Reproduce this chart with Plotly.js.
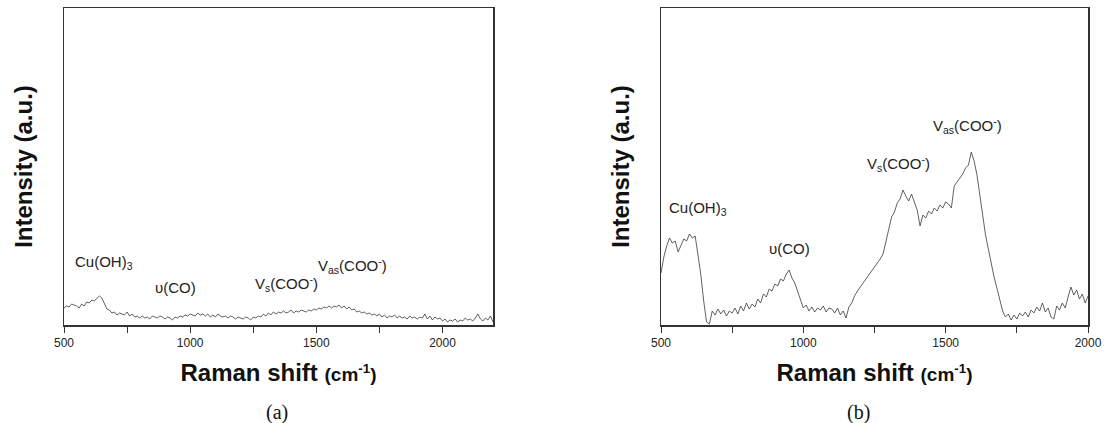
<!DOCTYPE html>
<html>
<head>
<meta charset="utf-8">
<script src="https://cdn.plot.ly/plotly-3.0.1.min.js"></script>
<style>
html,body{margin:0;padding:0;background:#fff;}
#chart{width:1106px;height:423px;}
</style>
</head>
<body>
<div id="chart"></div>
<script>
// Panel (a): Raman shift (cm-1) and intensity (a.u., arbitrary)
const shiftA = [500,510,520,530,540,550,560,570,580,590,600,610,620,630,640,650,660,670,680,690,700,710,720,730,740,750,760,770,780,790,800,810,820,830,840,850,860,870,880,890,900,910,920,930,940,950,960,970,980,990,1000,1010,1020,1030,1040,1050,1060,1070,1080,1090,1100,1110,1120,1130,1140,1150,1160,1170,1180,1190,1200,1210,1220,1230,1240,1250,1260,1270,1280,1290,1300,1310,1320,1330,1340,1350,1360,1370,1380,1390,1400,1410,1420,1430,1440,1450,1460,1470,1480,1490,1500,1510,1520,1530,1540,1550,1560,1570,1580,1590,1600,1610,1620,1630,1640,1650,1660,1670,1680,1690,1700,1710,1720,1730,1740,1750,1760,1770,1780,1790,1800,1810,1820,1830,1840,1850,1860,1870,1880,1890,1900,1910,1920,1930,1940,1950,1960,1970,1980,1990,2000,2010,2020,2030,2040,2050,2060,2070,2080,2090,2100,2110,2120,2130,2140,2150,2160,2170,2180,2190,2200];
const intensityA = [17,19,18,21,20,19,17,21,19,23,
22,25,24,27,29,27,21,16,15,12,
13,10,12,11,10,13,9,11,8,9,
7,9,7,8,6,9,8,7,9,8,
6,8,7,5,8,7,9,8,10,9,
11,10,9,12,10,11,9,11,8,10,
8,11,9,8,9,7,9,8,6,8,
7,6,8,7,5,8,7,9,8,11,
9,12,10,13,11,13,12,14,12,13,
15,12,14,13,15,14,13,15,14,16,
15,17,16,18,17,19,17,19,18,20,
17,19,16,18,15,16,13,14,12,13,
11,12,10,11,9,11,8,10,7,9,
8,10,7,9,7,8,6,9,7,8,
6,8,7,11,6,9,5,8,6,7,
4,6,3,5,4,6,3,5,4,7,
5,6,4,7,11,6,4,7,5,9,
3];

// Panel (b)
const shiftB = [500,510,520,530,540,550,560,570,580,590,600,610,620,630,640,650,660,670,680,690,700,710,720,730,740,750,760,770,780,790,800,810,820,830,840,850,860,870,880,890,900,910,920,930,940,950,960,970,980,990,1000,1010,1020,1030,1040,1050,1060,1070,1080,1090,1100,1110,1120,1130,1140,1150,1160,1170,1180,1190,1200,1210,1220,1230,1240,1250,1260,1270,1280,1290,1300,1310,1320,1330,1340,1350,1360,1370,1380,1390,1400,1410,1420,1430,1440,1450,1460,1470,1480,1490,1500,1510,1520,1530,1540,1550,1560,1570,1580,1590,1600,1610,1620,1630,1640,1650,1660,1670,1680,1690,1700,1710,1720,1730,1740,1750,1760,1770,1780,1790,1800,1810,1820,1830,1840,1850,1860,1870,1880,1890,1900,1910,1920,1930,1940,1950,1960,1970,1980,1990,2000];
const intensityB = [52,68,79,87,82,84,73,79,86,84,
91,87,89,70,50,24,3,1,14,10,
16,11,15,9,14,12,17,11,19,14,
22,16,21,18,26,22,31,28,36,34,
41,39,46,44,51,55,47,42,33,26,
17,20,14,18,13,17,15,19,13,17,
16,12,17,10,14,7,18,22,29,34,
38,42,45,50,53,58,61,66,71,84,
95,108,113,122,126,135,129,124,131,123,
115,99,110,107,114,111,117,114,120,117,
123,121,117,139,143,148,151,157,160,173,
164,150,132,110,90,76,61,48,37,26,
14,8,11,5,10,6,12,9,13,8,
15,12,18,14,22,13,17,8,6,19,
15,22,17,28,38,30,35,26,31,22,
29];

// Peak labels
const labelsText = ['Cu(OH)<sub>3</sub>', 'υ(CO)', 'V<sub>s</sub>(COO<sup>-</sup>)', 'V<sub>as</sub>(COO<sup>-</sup>)'];
const labelsAx = [536, 853, 1249, 1499];
const labelsAy = [63, 38, 42, 60];
const labelsBx = [520, 871, 1218, 1447];
const labelsBy = [117, 77, 162, 200];
const tickVals = [500, 1000, 1500, 2000];
const tickText = ['500', '1000', '1500', '2000'];

const lineStyle = {color: '#3a3a3a', width: 0.8};
const traces = [
  {x: shiftA, y: intensityA, type: 'scatter', mode: 'lines', line: lineStyle, xaxis: 'x', yaxis: 'y', hoverinfo: 'x+y'},
  {x: shiftB, y: intensityB, type: 'scatter', mode: 'lines', line: lineStyle, xaxis: 'x2', yaxis: 'y2', hoverinfo: 'x+y'}
];

const axisFont = {family: 'Liberation Sans, Arial, sans-serif', size: 12, color: '#222'};
const titleX = {
  text: '<b>Raman shift <span style="font-size:19px">(cm<sup>-1</sup>)</span></b>',
  font: {family: 'Liberation Sans, Arial, sans-serif', size: 24, color: '#111'},
  standoff: 15
};
const titleY = {
  text: '<b>Intensity (a.u.)</b>',
  font: {family: 'Liberation Sans, Arial, sans-serif', size: 24, color: '#111'},
  standoff: 23
};
function xAxis(domain, range, anchor) {
  return {
    domain: domain, range: range, anchor: anchor,
    showgrid: false, zeroline: false,
    showline: true, linecolor: '#333', linewidth: 1.5, mirror: true,
    ticks: 'outside', ticklen: 6, tickwidth: 1, tickcolor: '#333',
    tickvals: tickVals, ticktext: tickText,
    minor: {tickvals: [750, 1250, 1750, 2250].filter(v => v < range[1]), ticks: 'outside', ticklen: 6, tickwidth: 1, tickcolor: '#333', showgrid: false},
    tickfont: axisFont,
    title: titleX,
    automargin: false, fixedrange: true
  };
}
function yAxis(anchor) {
  return {
    anchor: anchor, range: [0, 317],
    showgrid: false, zeroline: false,
    showline: true, linecolor: '#333', linewidth: 1.5, mirror: true,
    ticks: '', showticklabels: false,
    title: titleY,
    automargin: false, fixedrange: true
  };
}

const annFont = {family: 'Liberation Sans, Arial, sans-serif', size: 15, color: '#222'};
const annotations = [];
labelsText.forEach((t, i) => {
  annotations.push({x: labelsAx[i], y: labelsAy[i], xref: 'x', yref: 'y', text: t, showarrow: false, xanchor: 'left', yanchor: 'middle', font: annFont});
  annotations.push({x: labelsBx[i], y: labelsBy[i], xref: 'x2', yref: 'y2', text: t, showarrow: false, xanchor: 'left', yanchor: 'middle', font: annFont});
});
const capFont = {family: 'Liberation Serif, Times New Roman, serif', size: 20, color: '#111'};
annotations.push({x: 0.2505, y: -0.2775, xref: 'paper', yref: 'paper', text: '(a)', showarrow: false, xanchor: 'center', yanchor: 'middle', font: capFont});
annotations.push({x: 0.7758, y: -0.2775, xref: 'paper', yref: 'paper', text: '(b)', showarrow: false, xanchor: 'center', yanchor: 'middle', font: capFont});

const layout = {
  width: 1106, height: 423,
  margin: {l: 0, r: 0, t: 8, b: 98, pad: 0},
  paper_bgcolor: '#fff', plot_bgcolor: '#fff',
  showlegend: false,
  xaxis: xAxis([64/1106, 493/1106], [500, 2200], 'y'),
  yaxis: yAxis('x'),
  xaxis2: xAxis([661/1106, 1088/1106], [500, 2000], 'y2'),
  yaxis2: yAxis('x2'),
  annotations: annotations
};

Plotly.newPlot('chart', traces, layout, {displayModeBar: false, staticPlot: true});
</script>
</body>
</html>
